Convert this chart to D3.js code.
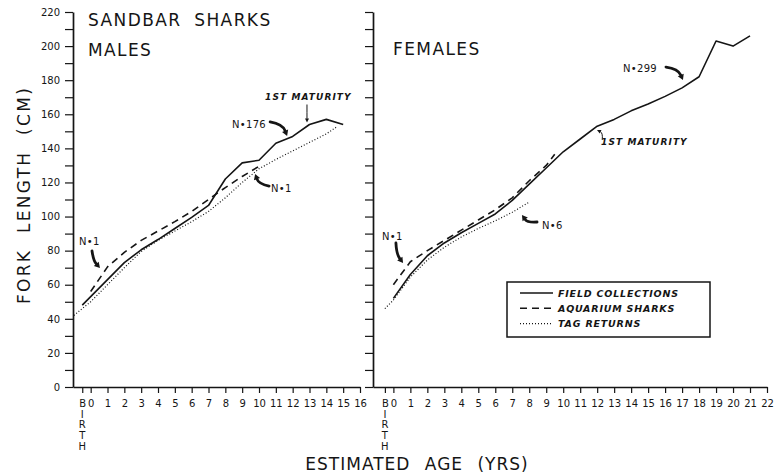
<!DOCTYPE html>
<html>
<head>
<meta charset="utf-8">
<script src="https://cdn.jsdelivr.net/npm/d3@7"></script>
<style>
  body { margin: 0; background: #fff; }
  svg { display: block; }
  text { font-family: "DejaVu Sans", sans-serif; fill: #151515; }
</style>
</head>
<body>
<svg id="chart" width="781" height="475"></svg>
<script>
// ---- Axis ticks ----
const birthAge = -0.5;                 // birth is plotted half a year before age 0
const maleAgeTicks = d3.range(0, 17);
const femaleAgeTicks = d3.range(0, 23);
const lengthTicks = d3.range(0, 221, 10);
const lengthLabelEvery = 20;
const birthLetters = ["I", "R", "T", "H"];

// ---- Males: fork length (cm) by estimated age (yrs) ----
const maleFieldAge    = [-0.5, 0, 1, 2, 3, 4, 5, 6, 7, 8, 9, 10, 11, 12, 13, 14, 15];
const maleFieldLen    = [48, 53, 63, 73, 80.5, 86.5, 93, 99.5, 106.5, 122, 131.5, 133, 143, 147, 154, 157, 154];
const maleAquaAge     = [0, 1, 2, 3, 4, 5, 6, 7, 8, 9, 10];
const maleAquaLen     = [56, 70.5, 79, 86, 91.5, 97, 103, 110, 117, 123.5, 129.5];
const maleTagAge      = [-1, 0, 1, 2, 3, 4, 5, 6, 7, 8, 9, 10, 11, 12, 13, 14, 14.6];
const maleTagLen      = [42, 50, 60, 70, 79.5, 86, 91.5, 97, 103, 111, 120, 128, 133.5, 138.5, 143.5, 148.5, 152.5];

// ---- Females ----
const femaleFieldAge  = [0, 1, 2, 3, 4, 5, 6, 7, 8, 9, 10, 11, 12, 13, 14, 15, 16, 17, 18, 19, 20, 21];
const femaleFieldLen  = [52, 66, 77, 84.5, 90.5, 96, 101.5, 109.5, 119, 128.5, 138, 145.5, 153, 157, 162, 166, 170.5, 175.5, 182, 203, 200, 206];
const femaleAquaAge   = [0, 1, 2, 3, 4, 5, 6, 7, 8, 9, 9.5];
const femaleAquaLen   = [60, 73.5, 80, 86, 92, 98, 104, 111, 121, 130, 136.5];
const femaleTagAge    = [-0.5, 0, 1, 2, 3, 4, 5, 6, 7, 8];
const femaleTagLen    = [46, 51, 64.5, 74.5, 82, 88, 93, 97.5, 102.5, 108.5];

// ---- Annotations (positions in age / length units) ----
const maleNotes = [
  { text: "N•1",   age: -0.69, len: 83.3,  from: [0.08, 79.8],  to: [0.55, 69.8],  bend: 0.15 },
  { text: "N•176", age: 8.4,   len: 151.9, from: [10.66, 155.5], to: [11.67, 147.3], bend: -0.28 },
  { text: "N•1",   age: 10.71, len: 114.4, from: [10.6, 117.9], to: [9.77, 125],   bend: -0.28 }
];
const femaleNotes = [
  { text: "N•1",   age: -0.67, len: 86.2,  from: [0.15, 84.5],  to: [0.57, 72.7],  bend: 0.15 },
  { text: "N•6",   age: 8.75,  len: 92.7,  from: [8.46, 96.8],  to: [7.57, 100.9], bend: -0.28 },
  { text: "N•299", age: 13.52, len: 184.8, from: [16.05, 187.7], to: [17.05, 180.1], bend: -0.28 }
];
const maturityLabel = "1ST MATURITY";
const maleMaturity   = { age: 10.36, len: 168.4, from: [12.85, 165.5], to: [12.85, 155.2], bend: 0 };
const femaleMaturity = { age: 12.23, len: 142,   from: [12.3, 145.2],  to: [11.99, 150.8], bend: 0.35 };

const legendItems = [
  { label: "FIELD COLLECTIONS", style: "field" },
  { label: "AQUARIUM SHARKS",   style: "aqua" },
  { label: "TAG RETURNS",       style: "tag" }
];

// ---- Layout ----
const svg = d3.select("#chart");
const ink = "#151515";
const y = d3.scaleLinear().domain([0, 220]).range([387, 12]);
const xM = d3.scaleLinear().domain([-1.05, 16]).range([73, 360]);
const xF = d3.scaleLinear().domain([-1.2, 22]).range([373, 767]);

const styles = {
  field: { width: 1.6, dash: null },
  aqua:  { width: 1.6, dash: "7,5" },
  tag:   { width: 1.2, dash: "1,2" }
};

function zip(a, b) { return a.map((d, i) => [d, b[i]]); }

function drawYAxis(x, withLabels) {
  const ax = d3.axisLeft(y).tickValues(lengthTicks).tickSize(8).tickSizeOuter(0).tickPadding(5)
    .tickFormat(d => (withLabels && d % lengthLabelEvery === 0) ? d : "");
  const g = svg.append("g").attr("transform", `translate(${x.range()[0]},0)`).call(ax);
  styleAxis(g);
}

function drawXAxis(x, ticks) {
  const ax = d3.axisBottom(x).tickValues([birthAge].concat(ticks)).tickSize(6).tickSizeOuter(0).tickPadding(7)
    .tickFormat(d => d === birthAge ? "B" : d);
  const g = svg.append("g").attr("transform", `translate(0,${y(0)})`).call(ax);
  styleAxis(g);
  // remaining letters of BIRTH, stacked under the "B"
  g.selectAll("text.birth").data(birthLetters).enter().append("text")
    .attr("class", "birth")
    .attr("x", x(birthAge)).attr("y", (d, i) => 30.7 + i * 10.7)
    .attr("text-anchor", "middle").attr("font-size", 10)
    .attr("font-family", "DejaVu Sans, sans-serif").attr("fill", ink)
    .text(d => d);
}

function styleAxis(g) {
  g.attr("font-family", "DejaVu Sans, sans-serif").attr("font-size", 10);
  g.select(".domain").attr("stroke", ink).attr("stroke-width", 1.7);
  g.selectAll(".tick line").attr("stroke", ink).attr("stroke-width", 1.2);
  g.selectAll(".tick text").attr("fill", ink);
}

function drawSeries(x, ages, lens, style) {
  const s = styles[style];
  const line = d3.line().x(d => x(d[0])).y(d => y(d[1]));
  svg.append("path").datum(zip(ages, lens))
    .attr("d", line).attr("fill", "none").attr("stroke", ink)
    .attr("stroke-width", s.width).attr("stroke-dasharray", s.dash)
    .attr("stroke-linejoin", "round");
}

// curved arrow with a filled head at its tip
function arrow(p0, p1, bend, w, head, headW) {
  const [x0, y0] = p0, [x1, y1] = p1;
  const dx = x1 - x0, dy = y1 - y0, len = Math.hypot(dx, dy);
  const nx = -dy / len, ny = dx / len;
  const cx = (x0 + x1) / 2 + nx * bend * len, cy = (y0 + y1) / 2 + ny * bend * len;
  const tx = x1 - cx, ty = y1 - cy, tl = Math.hypot(tx, ty);
  const ux = tx / tl, uy = ty / tl;
  const bx = x1 - ux * head, by = y1 - uy * head;
  svg.append("path").attr("d", `M${x0},${y0}Q${cx},${cy} ${bx},${by}`)
    .attr("fill", "none").attr("stroke", ink).attr("stroke-width", w).attr("stroke-linecap", "round");
  svg.append("path")
    .attr("d", `M${x1},${y1}L${bx - uy * headW / 2},${by + ux * headW / 2}L${bx + uy * headW / 2},${by - ux * headW / 2}Z`)
    .attr("fill", ink);
}

function drawNotes(x, notes) {
  notes.forEach(n => {
    svg.append("text").attr("x", x(n.age)).attr("y", y(n.len))
      .attr("font-size", 10).attr("letter-spacing", 0.3).text(n.text);
    arrow([x(n.from[0]), y(n.from[1])], [x(n.to[0]), y(n.to[1])], n.bend, 2.8, 5.5, 6.5);
  });
}

function drawMaturity(x, m) {
  svg.append("text").attr("x", x(m.age)).attr("y", y(m.len))
    .attr("font-size", 9).attr("font-style", "italic").attr("font-weight", "bold")
    .attr("letter-spacing", 1.1).text(maturityLabel);
  arrow([x(m.from[0]), y(m.from[1])], [x(m.to[0]), y(m.to[1])], m.bend, 1, 4, 4);
}

// ---- Males panel ----
drawYAxis(xM, true);
drawXAxis(xM, maleAgeTicks);
drawSeries(xM, maleFieldAge, maleFieldLen, "field");
drawSeries(xM, maleAquaAge, maleAquaLen, "aqua");
drawSeries(xM, maleTagAge, maleTagLen, "tag");
drawNotes(xM, maleNotes);
drawMaturity(xM, maleMaturity);

// ---- Females panel ----
drawYAxis(xF, false);
drawXAxis(xF, femaleAgeTicks);
drawSeries(xF, femaleFieldAge, femaleFieldLen, "field");
drawSeries(xF, femaleAquaAge, femaleAquaLen, "aqua");
drawSeries(xF, femaleTagAge, femaleTagLen, "tag");
drawNotes(xF, femaleNotes);
drawMaturity(xF, femaleMaturity);

// ---- Titles ----
const titleAttrs = t => t.attr("font-size", 17).attr("letter-spacing", 1.4).attr("word-spacing", 6);
titleAttrs(svg.append("text").attr("x", 88).attr("y", 26)).text("SANDBAR SHARKS");
titleAttrs(svg.append("text").attr("x", 88).attr("y", 56)).text("MALES");
titleAttrs(svg.append("text").attr("x", 393).attr("y", 55)).text("FEMALES");

svg.append("text").attr("transform", "translate(30,195) rotate(-90)")
  .attr("text-anchor", "middle").attr("font-size", 17)
  .attr("letter-spacing", 2.3).attr("word-spacing", 8)
  .text("FORK LENGTH (CM)");

svg.append("text").attr("x", 417).attr("y", 470)
  .attr("text-anchor", "middle").attr("font-size", 17)
  .attr("letter-spacing", 1).attr("word-spacing", 8)
  .text("ESTIMATED AGE (YRS)");

// ---- Legend ----
const lg = svg.append("g").attr("transform", "translate(507,282)");
lg.append("rect").attr("width", 203).attr("height", 55)
  .attr("fill", "#fff").attr("stroke", ink).attr("stroke-width", 1.5);
const rows = lg.selectAll("g.item").data(legendItems).enter().append("g")
  .attr("class", "item").attr("transform", (d, i) => `translate(0,${11 + i * 15.3})`);
rows.append("line").attr("x1", 13).attr("x2", 46).attr("y1", 0).attr("y2", 0)
  .attr("stroke", ink)
  .attr("stroke-width", d => styles[d.style].width)
  .attr("stroke-dasharray", d => styles[d.style].dash);
rows.append("text").attr("x", 51).attr("y", 3.5)
  .attr("font-size", 9.5).attr("font-style", "italic").attr("font-weight", "bold")
  .attr("letter-spacing", 0.8).text(d => d.label);
</script>
</body>
</html>
